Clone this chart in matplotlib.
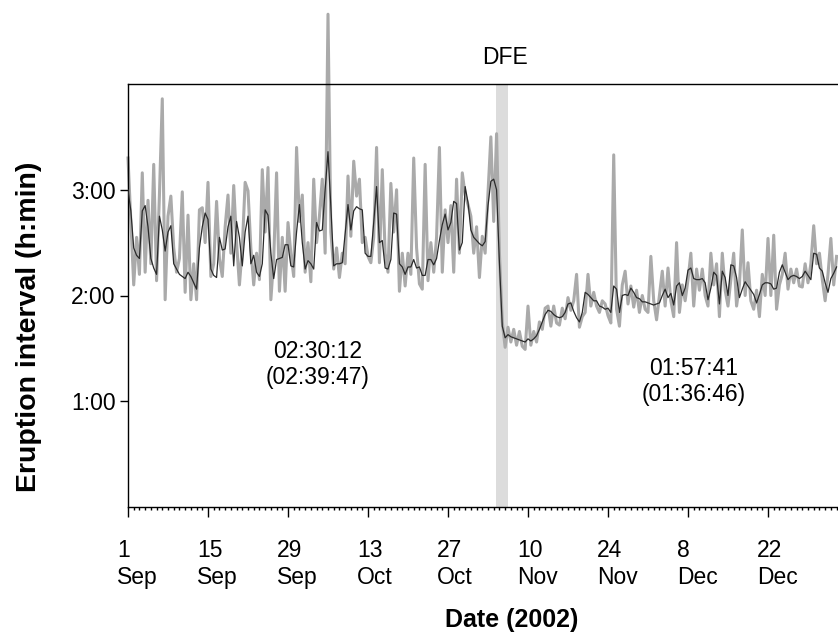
import numpy as np
import matplotlib
matplotlib.use("Agg")
import matplotlib.pyplot as plt
from matplotlib.transforms import ScaledTranslation

plt.rcParams['font.family'] = ['Liberation Sans', 'DejaVu Sans']

# days since 1 Sep 2002, sampled every half day
day_step = 0.5

# raw eruption intervals (hours)
raw_interval = [
    3.30, 2.70, 2.10, 2.55, 2.20, 3.16, 2.22, 2.90, 2.30, 3.24,
    2.14, 2.95, 3.86, 1.96, 2.75, 2.94, 2.45, 2.22, 2.35, 2.98,
    2.03, 2.76, 1.96, 2.30, 1.96, 2.81, 2.83, 2.50, 3.07, 2.18,
    2.30, 2.89, 2.35, 2.18, 2.65, 2.95, 2.40, 3.04, 2.50, 2.10,
    2.45, 3.07, 2.99, 2.45, 2.10, 2.40, 2.15, 3.19, 2.60, 3.21,
    1.96, 2.35, 3.16, 2.04, 2.55, 2.04, 2.69, 2.40, 2.18, 3.40,
    2.70, 2.95, 2.22, 2.50, 2.13, 3.10, 2.50, 2.75, 3.10, 2.40,
    4.66, 2.60, 2.25, 2.45, 2.17, 2.40, 2.30, 3.13, 2.56, 3.27,
    2.94, 3.10, 2.50, 2.55, 2.37, 2.31, 2.55, 3.40, 2.31, 3.19,
    2.40, 2.22, 3.06, 2.60, 3.00, 2.04, 2.40, 2.09, 2.40, 2.20,
    3.30, 2.45, 2.11, 2.06, 3.24, 2.14, 2.50, 2.22, 2.55, 3.40,
    2.22, 2.81, 2.50, 2.85, 2.22, 3.10, 2.40, 3.16, 2.95, 2.86,
    2.75, 2.40, 2.65, 2.17, 2.56, 2.40, 2.97, 3.50, 2.70, 3.53,
    2.40, 1.75, 1.51, 1.70, 1.56, 1.68, 1.53, 1.66, 1.52, 1.49,
    1.90, 1.53, 1.66, 1.56, 1.75, 1.68, 1.88, 1.90, 1.71, 1.90,
    1.74, 1.72, 1.88, 1.78, 1.98, 1.86, 1.95, 2.20, 1.70, 1.80,
    1.84, 2.20, 1.90, 2.03, 1.90, 1.84, 1.95, 1.92, 1.81, 1.74,
    3.33, 1.87, 1.71, 2.10, 2.23, 1.92, 2.09, 1.89, 2.05, 1.84,
    2.00, 1.87, 1.84, 2.37, 1.95, 1.77, 2.00, 2.23, 1.90, 2.26,
    1.95, 1.80, 2.50, 1.84, 2.10, 1.95, 2.15, 2.40, 1.90, 2.25,
    2.05, 2.25, 2.00, 1.90, 2.40, 2.10, 2.30, 1.80, 2.40, 2.05,
    1.90, 2.15, 2.40, 1.90, 2.10, 2.62, 2.00, 2.31, 1.95, 1.87,
    2.05, 1.80, 2.20, 2.00, 2.54, 2.00, 2.57, 1.87, 2.10, 2.20,
    2.40, 2.06, 2.25, 2.12, 2.25, 2.09, 2.08, 2.30, 2.12, 2.30,
    2.66, 2.30, 2.40, 2.15, 1.95, 2.20, 2.54, 2.10, 2.37,
]

# smoothed intervals (hours)
smooth_interval = [
    3.00, 2.80, 2.45, 2.38, 2.35, 2.80, 2.85, 2.65, 2.35, 2.26,
    2.20, 2.75, 2.62, 2.42, 2.60, 2.66, 2.30, 2.25, 2.20, 2.18,
    2.16, 2.22, 2.18, 2.12, 2.06, 2.45, 2.65, 2.78, 2.72, 2.25,
    2.19, 2.17, 2.55, 2.43, 2.44, 2.65, 2.75, 2.28, 2.70, 2.55,
    2.28, 2.60, 2.75, 2.30, 2.38, 2.22, 2.18, 2.30, 2.81, 2.76,
    2.40, 2.16, 2.34, 2.35, 2.36, 2.48, 2.48, 2.28, 2.27, 2.60,
    2.86, 2.50, 2.25, 2.33, 2.30, 2.25, 2.69, 2.61, 2.62, 3.00,
    3.36, 2.84, 2.28, 2.30, 2.30, 2.31, 2.58, 2.86, 2.62, 2.80,
    2.84, 2.82, 2.81, 2.40, 2.37, 2.37, 2.69, 3.03, 2.50, 2.52,
    2.26, 2.25, 2.34, 2.78, 2.77, 2.30, 2.27, 2.20, 2.27, 2.27,
    2.34, 2.26, 2.27, 2.19, 2.19, 2.34, 2.34, 2.29, 2.35, 2.52,
    2.67, 2.77, 2.62, 2.69, 2.89, 2.87, 2.43, 2.50, 3.03, 2.88,
    2.62, 2.55, 2.52, 2.49, 2.47, 2.51, 2.85, 3.08, 3.10, 3.00,
    2.31, 1.71, 1.60, 1.63, 1.61, 1.60, 1.59, 1.58, 1.57, 1.56,
    1.59, 1.57, 1.59, 1.62, 1.68, 1.75, 1.82, 1.86, 1.85, 1.82,
    1.80, 1.79, 1.80, 1.84, 1.92, 1.93, 1.85, 1.79, 1.75, 1.84,
    2.03, 2.01, 1.98, 1.95, 1.95, 1.90, 1.89, 1.87, 1.88, 1.84,
    2.09, 2.06, 1.84, 2.00, 2.01, 2.00, 2.07, 2.03, 1.98, 1.97,
    1.94, 1.94, 1.93, 1.92, 1.91, 1.92, 1.93, 2.00, 2.06, 1.98,
    2.02, 1.91, 2.09, 2.12, 2.00, 2.07, 2.24, 2.26, 2.16, 2.15,
    2.15, 2.16, 2.12, 1.96, 2.07, 2.22, 2.19, 1.92, 2.23, 2.17,
    2.00, 2.29, 2.28, 2.17, 1.98, 2.06, 2.13, 2.09, 2.05, 2.01,
    1.93, 2.01, 2.10, 2.12, 2.12, 2.11, 2.06, 2.07, 2.22, 2.29,
    2.22, 2.15, 2.18, 2.19, 2.18, 2.16, 2.18, 2.23, 2.19, 2.15,
    2.40, 2.39, 2.26, 2.23, 2.12, 2.03, 2.16, 2.21, 2.27,
]

tick_days = [0, 14, 28, 42, 56, 70, 84, 98, 112]
tick_labels = ['1\nSep', '15\nSep', '29\nSep', '13\nOct', '27\nOct',
               '10\nNov', '24\nNov', '8\nDec', '22\nDec']
hour_ticks = [1, 2, 3]
hour_labels = ['1:00', '2:00', '3:00']

dfe_start, dfe_end = 64.4, 66.5
before_text = '02:30:12\n(02:39:47)'
after_text = '01:57:41\n(01:36:46)'

days = np.arange(len(raw_interval)) * day_step

fig = plt.figure(figsize=(8.38, 6.37), dpi=100)
ax = fig.add_axes([128 / 838, 1 - 507 / 637, 1 - 128 / 838, (507 - 84) / 637])

ax.axvspan(dfe_start, dfe_end, color='#dcdcdc', lw=0, zorder=0)
ax.plot(days, raw_interval, color='#aaaaaa', lw=2.2, clip_on=False, zorder=2)
ax.plot(days, smooth_interval, color='#2a2a2a', lw=0.9, zorder=3)

ax.set_xlim(0, 124.25)
ax.set_ylim(0, 4)

ax.spines['right'].set_visible(False)
for s in ['left', 'top', 'bottom']:
    ax.spines[s].set_linewidth(1.0)

ax.set_yticks(hour_ticks)
ax.set_yticklabels(hour_labels, fontsize=16.5)
ax.tick_params(axis='y', direction='out', length=6, width=1.0, pad=3)

ax.set_xticks(tick_days)
ax.set_xticklabels(tick_labels, fontsize=16.5, ha='left', linespacing=1.2)
ax.set_xticks(np.arange(0, 125, 1), minor=True)
ax.tick_params(axis='x', which='major', direction='out', length=7, width=1.0, pad=16)
ax.tick_params(axis='x', which='minor', direction='out', length=2.5, width=1.0)
shift = ScaledTranslation(-11 / 100, 0, fig.dpi_scale_trans)
for lbl in ax.get_xticklabels():
    lbl.set_transform(lbl.get_transform() + shift)

ax.text(33.25, 1.35, before_text, ha='center', va='center', fontsize=16.5, linespacing=1.15)
ax.text(99.05, 1.19, after_text, ha='center', va='center', fontsize=16.5, linespacing=1.15)
ax.text(66.0, 4.25, 'DFE', ha='center', va='center', fontsize=16.5)

fig.text(29 / 838, 1 - 327 / 637, 'Eruption interval (h:min)', rotation=90,
         ha='center', va='center', fontsize=20.5, fontweight='bold')
fig.text(512 / 838, 1 - 620 / 637, 'Date (2002)', ha='center', va='center',
         fontsize=18, fontweight='bold')

fig.savefig('out.png', dpi=100)
